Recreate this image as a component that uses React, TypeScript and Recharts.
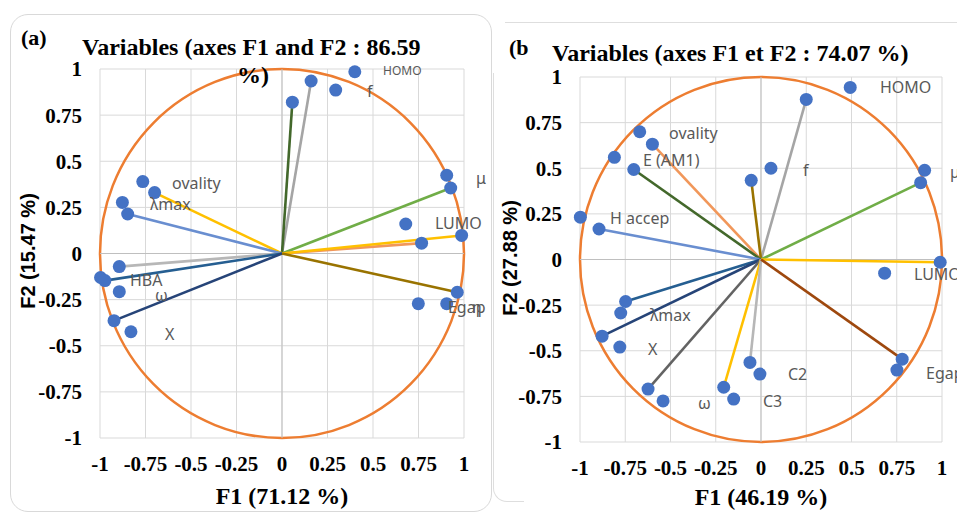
import React from 'react';
import {
  ScatterChart,
  Scatter,
  XAxis,
  YAxis,
  CartesianGrid,
  ReferenceLine,
  ReferenceArea,
  ReferenceDot,
} from 'recharts';

// ---------- shared ----------
const axisTicks = [-1, -0.75, -0.5, -0.25, 0, 0.25, 0.5, 0.75, 1];

// ---------- panel (a) ----------
const aTitle = 'Variables (axes F1 and F2 : 86.59';
const aTitleTail = '%)';
const aXLabel = 'F1 (71.12 %)';
const aYLabel = 'F2 (15.47 %)';

const aPoints = [
  { x: 0.4, y: 0.985 },
  { x: 0.16, y: 0.935 },
  { x: 0.295, y: 0.886 },
  { x: 0.057, y: 0.82 },
  { x: -0.765, y: 0.39 },
  { x: -0.7, y: 0.33 },
  { x: -0.877, y: 0.277 },
  { x: -0.848, y: 0.214 },
  { x: 0.905, y: 0.424 },
  { x: 0.927, y: 0.355 },
  { x: 0.68, y: 0.16 },
  { x: 0.987, y: 0.098 },
  { x: 0.767, y: 0.056 },
  { x: -0.894, y: -0.071 },
  { x: -0.997, y: -0.13 },
  { x: -0.973, y: -0.147 },
  { x: -0.894, y: -0.207 },
  { x: -0.923, y: -0.364 },
  { x: -0.83, y: -0.424 },
  { x: 0.963, y: -0.21 },
  { x: 0.749, y: -0.272 },
  { x: 0.905, y: -0.272 },
];

const aVectors = [
  { x: 0.16, y: 0.935 },
  { x: 0.057, y: 0.82 },
  { x: -0.7, y: 0.33 },
  { x: -0.848, y: 0.214 },
  { x: 0.927, y: 0.355 },
  { x: 0.767, y: 0.056 },
  { x: 0.987, y: 0.098 },
  { x: -0.894, y: -0.071 },
  { x: -0.973, y: -0.147 },
  { x: -0.923, y: -0.364 },
  { x: 0.963, y: -0.21 },
];
const aVectorColors = [
  '#A5A5A5',
  '#43682B',
  '#FFC000',
  '#698ED0',
  '#70AD47',
  '#F1975A',
  '#FFC000',
  '#B7B7B7',
  '#255E91',
  '#264478',
  '#997300',
];

const aLabels = [
  { text: 'HOMO', x: 0.555, y: 0.99 },
  { text: 'f', x: 0.467, y: 0.88 },
  { text: 'ovality', x: -0.604, y: 0.38 },
  { text: 'λmax', x: -0.725, y: 0.266 },
  { text: 'μ', x: 1.066, y: 0.408 },
  { text: 'LUMO', x: 0.84, y: 0.163 },
  { text: 'HBA', x: -0.835, y: -0.141 },
  { text: 'ω', x: -0.698, y: -0.223 },
  { text: 'X', x: -0.643, y: -0.435 },
  { text: 'Egap', x: 0.912, y: -0.288 },
  { text: 'η', x: 1.044, y: -0.288 },
];
const aLabelSizes = [12, 16, 16, 16, 16, 16, 16, 16, 16, 16, 16];

// ---------- panel (b) ----------
const bTitle = 'Variables (axes F1 et F2 : 74.07 %)';
const bXLabel = 'F1 (46.19 %)';
const bYLabel = 'F2 (27.88 %)';

const bPoints = [
  { x: 0.493, y: 0.943 },
  { x: 0.25, y: 0.877 },
  { x: -0.67, y: 0.7 },
  { x: -0.6, y: 0.632 },
  { x: -0.81, y: 0.56 },
  { x: -0.703, y: 0.493 },
  { x: -0.054, y: 0.434 },
  { x: 0.055, y: 0.5 },
  { x: -0.998, y: 0.232 },
  { x: -0.895, y: 0.167 },
  { x: 0.904, y: 0.489 },
  { x: 0.882, y: 0.421 },
  { x: 0.99, y: -0.015 },
  { x: 0.683, y: -0.075 },
  { x: -0.748, y: -0.23 },
  { x: -0.775, y: -0.293 },
  { x: -0.878, y: -0.42 },
  { x: -0.78, y: -0.48 },
  { x: -0.624, y: -0.71 },
  { x: -0.541, y: -0.775 },
  { x: -0.206, y: -0.7 },
  { x: -0.151, y: -0.765 },
  { x: -0.061, y: -0.564 },
  { x: -0.006, y: -0.628 },
  { x: 0.78, y: -0.546 },
  { x: 0.751, y: -0.606 },
];

const bVectors = [
  { x: 0.25, y: 0.877 },
  { x: -0.6, y: 0.632 },
  { x: -0.703, y: 0.493 },
  { x: -0.054, y: 0.434 },
  { x: -0.895, y: 0.167 },
  { x: 0.882, y: 0.421 },
  { x: 0.99, y: -0.015 },
  { x: -0.748, y: -0.23 },
  { x: -0.878, y: -0.42 },
  { x: -0.624, y: -0.71 },
  { x: -0.206, y: -0.7 },
  { x: -0.061, y: -0.564 },
  { x: 0.78, y: -0.546 },
];
const bVectorColors = [
  '#A5A5A5',
  '#F1975A',
  '#43682B',
  '#997300',
  '#698ED0',
  '#70AD47',
  '#FFC000',
  '#255E91',
  '#264478',
  '#636363',
  '#FFC000',
  '#B7B7B7',
  '#9E480E',
];

const bLabels = [
  { text: 'HOMO', x: 0.657, y: 0.945 },
  { text: 'ovality', x: -0.508, y: 0.692 },
  { text: 'E (AM1)', x: -0.652, y: 0.544 },
  { text: 'f', x: 0.232, y: 0.489 },
  { text: 'H accep', x: -0.834, y: 0.225 },
  { text: 'μ', x: 1.044, y: 0.478 },
  { text: 'LUMO', x: 0.845, y: -0.077 },
  { text: 'λmax', x: -0.613, y: -0.302 },
  { text: 'X', x: -0.624, y: -0.489 },
  { text: 'ω', x: -0.348, y: -0.786 },
  { text: 'C3', x: 0.011, y: -0.775 },
  { text: 'C2', x: 0.149, y: -0.626 },
  { text: 'Egap', x: 0.912, y: -0.621 },
];
const bLabelSizes = [16, 16, 16, 16, 16, 16, 16, 16, 16, 16, 16, 16, 16];

// ---------- styles ----------
const SERIF = '"Liberation Serif", "Times New Roman", serif';
const SANS = '"Liberation Sans", Arial, sans-serif';
const LABEL_FONT = '"Noto Sans", "Open Sans", sans-serif';

const tickStyle = {
  fontFamily: SERIF,
  fontSize: 21,
  fontWeight: 700,
  fill: '#000000',
};

const CircleShape = (p: any) => (
  <ellipse
    cx={p.x + p.width / 2}
    cy={p.y + p.height / 2}
    rx={Math.abs(p.width) / 2}
    ry={Math.abs(p.height) / 2}
    fill="none"
    stroke="#ED7D31"
    strokeWidth={2.5}
  />
);

const EmptyShape = () => <g />;

const DotShape = (p: any) => (
  <circle cx={p.cx} cy={p.cy} r={6.5} fill="#4472C4" stroke="none" />
);

type PanelProps = {
  left: number;
  width: number;
  margin: { top: number; right: number; bottom: number; left: number };
  points: { x: number; y: number }[];
  vectors: { x: number; y: number }[];
  colors: string[];
  labels: { text: string; x: number; y: number }[];
  labelSizes: number[];
};

const Panel = ({ left, width, margin, points, vectors, colors, labels, labelSizes }: PanelProps) => (
  <div style={{ position: 'absolute', left, top: 0 }}>
    <ScatterChart width={width} height={514} margin={margin}>
      <CartesianGrid stroke="#d9d9d9" strokeWidth={1} />
      <XAxis
        type="number"
        dataKey="x"
        domain={[-1, 1]}
        ticks={axisTicks}
        interval={0}
        axisLine={false}
        tickLine={false}
        tickMargin={12}
        tick={tickStyle}
        height={40}
      />
      <YAxis
        type="number"
        dataKey="y"
        domain={[-1, 1]}
        ticks={axisTicks}
        interval={0}
        axisLine={false}
        tickLine={false}
        tickMargin={12}
        tick={tickStyle}
        width={60}
      />
      <ReferenceLine x={0} stroke="#bfbfbf" strokeWidth={1} />
      <ReferenceLine y={0} stroke="#bfbfbf" strokeWidth={1} />
      <ReferenceArea x1={-1} x2={1} y1={-1} y2={1} shape={CircleShape} />
      {vectors.map((v, i) => (
        <Scatter
          key={'v' + i}
          data={[{ x: 0, y: 0 }, v]}
          fill={colors[i]}
          line={{ stroke: colors[i], strokeWidth: 2.6 }}
          shape={EmptyShape}
          isAnimationActive={false}
        />
      ))}
      <Scatter data={points} fill="#4472C4" shape={DotShape} isAnimationActive={false} />
      {labels.map((l, i) => (
        <ReferenceDot
          key={'l' + i}
          x={l.x}
          y={l.y}
          r={0}
          ifOverflow="visible"
          shape={(p: any) => (
            <text
              x={p.cx}
              y={p.cy}
              dominantBaseline="central"
              textAnchor="start"
              fontFamily={LABEL_FONT}
              fontSize={labelSizes[i]}
              fill="#595959"
            >
              {l.text}
            </text>
          )}
        />
      ))}
    </ScatterChart>
  </div>
);

const abs = (left: number, top: number, extra: React.CSSProperties = {}): React.CSSProperties => ({
  position: 'absolute',
  left,
  top,
  whiteSpace: 'nowrap',
  ...extra,
});

export default function App() {
  const titleFont: React.CSSProperties = {
    fontFamily: SERIF,
    fontWeight: 700,
    fontSize: 24,
    lineHeight: '24px',
    color: '#000',
  };
  const axisFont: React.CSSProperties = {
    fontFamily: SERIF,
    fontWeight: 700,
    fontSize: 24,
    lineHeight: '24px',
    color: '#000',
  };
  const yFont: React.CSSProperties = {
    fontFamily: SANS,
    fontWeight: 700,
    fontSize: 20,
    lineHeight: '20px',
    color: '#000',
  };
  return (
    <div
      style={{
        position: 'absolute',
        left: 0,
        top: 0,
        width: 957,
        height: 514,
        background: '#ffffff',
        overflow: 'hidden',
      }}
    >
      {/* card outlines */}
      <div
        style={abs(10, 14, {
          width: 480,
          height: 496,
          border: '1.5px solid #d9d9d9',
          borderRadius: 18,
        })}
      />
      <div
        style={abs(493, 73, {
          width: 30,
          height: 428,
          borderLeft: '1.5px solid #dedede',
          borderBottom: '1.5px solid #dedede',
          borderBottomLeftRadius: 14,
        })}
      />
      <div
        style={abs(505, 22, {
          width: 470,
          height: 520,
          borderTop: '1.5px solid #dedede',
          borderRight: '1.5px solid #dedede',
          borderTopRightRadius: 18,
        })}
      />

      <Panel
        left={0}
        width={495}
        margin={{ top: 69, right: 31, bottom: 36, left: 40 }}
        points={aPoints}
        vectors={aVectors}
        colors={aVectorColors}
        labels={aLabels}
        labelSizes={aLabelSizes}
      />
      <Panel
        left={480}
        width={477}
        margin={{ top: 77, right: 15, bottom: 32, left: 40 }}
        points={bPoints}
        vectors={bVectors}
        colors={bVectorColors}
        labels={bLabels}
        labelSizes={bLabelSizes}
      />

      {/* titles */}
      <div style={abs(21, 26, { ...titleFont, fontSize: 22 })}>(a)</div>
      <div style={abs(82, 35, titleFont)}>{aTitle}</div>
      <div style={abs(237, 63, titleFont)}>{aTitleTail}</div>
      <div style={abs(509, 36, { ...titleFont, fontSize: 22 })}>(b</div>
      <div style={abs(552, 41, titleFont)}>{bTitle}</div>

      {/* axis titles */}
      <div style={abs(182, 484, { ...axisFont, width: 200, textAlign: 'center' })}>{aXLabel}</div>
      <div style={abs(661, 485, { ...axisFont, width: 200, textAlign: 'center' })}>{bXLabel}</div>
      <div
        style={abs(-42, 241, {
          ...yFont,
          width: 140,
          textAlign: 'center',
          transform: 'rotate(-90deg)',
        })}
      >
        {aYLabel}
      </div>
      <div
        style={abs(440, 248, {
          ...yFont,
          width: 140,
          textAlign: 'center',
          transform: 'rotate(-90deg)',
        })}
      >
        {bYLabel}
      </div>
    </div>
  );
}
